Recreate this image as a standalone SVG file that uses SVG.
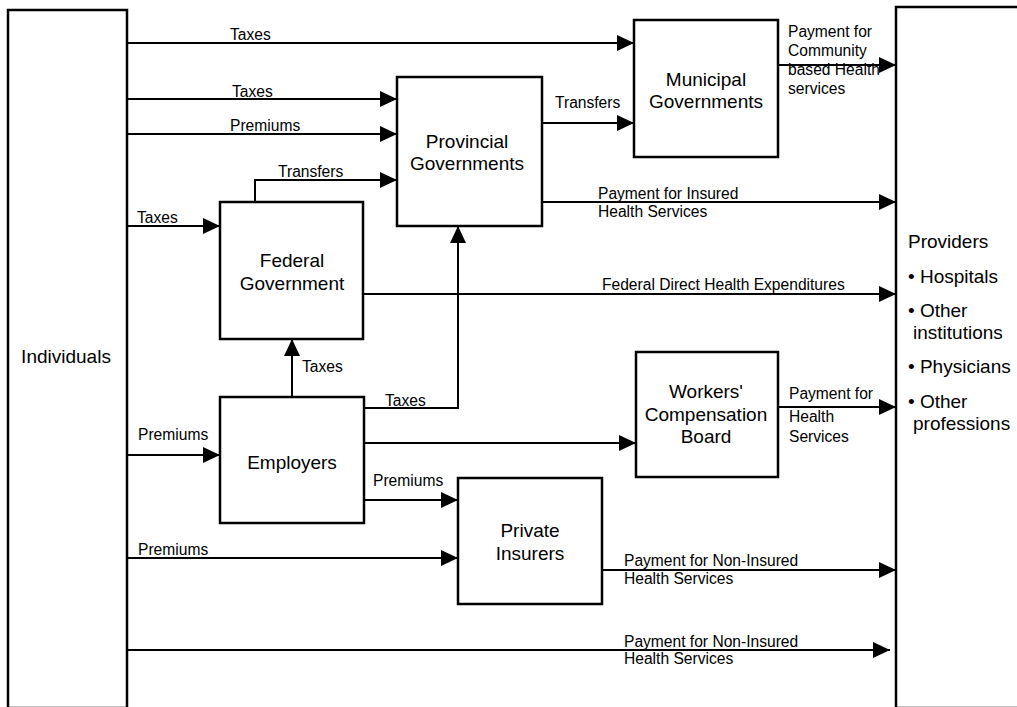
<svg xmlns="http://www.w3.org/2000/svg" width="1017" height="707" viewBox="0 0 1017 707">
  <style>
    .box { fill: #fff; stroke: #000; stroke-width: 2.5; }
    .node { font-family: "Liberation Sans", Arial, sans-serif; font-size: 19px; fill: #000; }
    .lbl { font-family: "Liberation Sans", Arial, sans-serif; font-size: 15.6px; fill: #000; }
    .edge { fill: none; stroke: #000; stroke-width: 2; }
  </style>
  <defs>
    <marker id="arrow" markerUnits="userSpaceOnUse" markerWidth="18" markerHeight="16" refX="17" refY="8" orient="auto">
      <path d="M0,0 L17,8 L0,16 Z" fill="#000"/>
    </marker>
  </defs>
  <rect width="1017" height="707" fill="#fff"/>

  <!-- connectors -->
  <g id="connectors">
    <path class="edge" d="M127,43 H634" marker-end="url(#arrow)"/>
    <path class="edge" d="M127,99 H397" marker-end="url(#arrow)"/>
    <path class="edge" d="M127,134 H397" marker-end="url(#arrow)"/>
    <path class="edge" d="M255,202 V180 H397" marker-end="url(#arrow)"/>
    <path class="edge" d="M127,226 H220" marker-end="url(#arrow)"/>
    <path class="edge" d="M542,123 H634" marker-end="url(#arrow)"/>
    <path class="edge" d="M542,202 H896" marker-end="url(#arrow)"/>
    <path class="edge" d="M363,294 H896" marker-end="url(#arrow)"/>
    <path class="edge" d="M778,65 H896" marker-end="url(#arrow)"/>
    <path class="edge" d="M292,397 V339" marker-end="url(#arrow)"/>
    <path class="edge" d="M364,408 H458 V226" marker-end="url(#arrow)"/>
    <path class="edge" d="M364,443 H636" marker-end="url(#arrow)"/>
    <path class="edge" d="M778,407 H896" marker-end="url(#arrow)"/>
    <path class="edge" d="M127,455 H220" marker-end="url(#arrow)"/>
    <path class="edge" d="M364,500 H458" marker-end="url(#arrow)"/>
    <path class="edge" d="M127,558 H458" marker-end="url(#arrow)"/>
    <path class="edge" d="M602,570 H896" marker-end="url(#arrow)"/>
    <path class="edge" d="M127,650 H890" marker-end="url(#arrow)"/>

    <!-- connector labels -->
    <text class="lbl" x="230" y="40">Taxes</text>
    <text class="lbl" x="232" y="97">Taxes</text>
    <text class="lbl" x="230" y="131">Premiums</text>
    <text class="lbl" x="278" y="177">Transfers</text>
    <text class="lbl" x="137" y="223">Taxes</text>
    <text class="lbl" x="555" y="108">Transfers</text>
    <text class="lbl" x="598" y="199">Payment for Insured</text>
    <text class="lbl" x="598" y="217">Health Services</text>
    <text class="lbl" x="602" y="290">Federal Direct Health Expenditures</text>
    <text class="lbl" x="788" y="37">Payment for</text>
    <text class="lbl" x="788" y="56">Community</text>
    <text class="lbl" x="788" y="75">based Health</text>
    <text class="lbl" x="788" y="94">services</text>
    <text class="lbl" x="302" y="372">Taxes</text>
    <text class="lbl" x="385" y="406">Taxes</text>
    <text class="lbl" x="789" y="399">Payment for</text>
    <text class="lbl" x="789" y="422">Health</text>
    <text class="lbl" x="789" y="442">Services</text>
    <text class="lbl" x="138" y="440">Premiums</text>
    <text class="lbl" x="373" y="486">Premiums</text>
    <text class="lbl" x="138" y="555">Premiums</text>
    <text class="lbl" x="624" y="566">Payment for Non-Insured</text>
    <text class="lbl" x="624" y="584">Health Services</text>
    <text class="lbl" x="624" y="647">Payment for Non-Insured</text>
    <text class="lbl" x="624" y="664">Health Services</text>
  </g>

  <!-- nodes -->
  <g id="individuals">
    <rect class="box" x="8" y="10" width="119" height="698"/>
    <text class="node" x="66" y="363" text-anchor="middle">Individuals</text>
  </g>
  <g id="providers">
    <rect class="box" x="896" y="7" width="140" height="701"/>
    <text class="node" x="908" y="248">Providers</text>
    <text class="node" x="908" y="283">• Hospitals</text>
    <text class="node" x="908" y="317">• Other</text>
    <text class="node" x="913" y="339">institutions</text>
    <text class="node" x="908" y="373">• Physicians</text>
    <text class="node" x="908" y="408">• Other</text>
    <text class="node" x="913" y="430">professions</text>
  </g>
  <g id="municipal">
    <rect class="box" x="634" y="20" width="144" height="137"/>
    <text class="node" x="706" y="86" text-anchor="middle">Municipal</text>
    <text class="node" x="706" y="108" text-anchor="middle">Governments</text>
  </g>
  <g id="provincial">
    <rect class="box" x="397" y="77" width="145" height="149"/>
    <text class="node" x="467" y="148" text-anchor="middle">Provincial</text>
    <text class="node" x="467" y="170" text-anchor="middle">Governments</text>
  </g>
  <g id="federal">
    <rect class="box" x="220" y="202" width="143" height="137"/>
    <text class="node" x="292" y="267" text-anchor="middle">Federal</text>
    <text class="node" x="292" y="290" text-anchor="middle">Government</text>
  </g>
  <g id="employers">
    <rect class="box" x="220" y="397" width="144" height="126"/>
    <text class="node" x="292" y="469" text-anchor="middle">Employers</text>
  </g>
  <g id="wcb">
    <rect class="box" x="636" y="352" width="142" height="125"/>
    <text class="node" x="706" y="398" text-anchor="middle">Workers'</text>
    <text class="node" x="706" y="421" text-anchor="middle">Compensation</text>
    <text class="node" x="706" y="443" text-anchor="middle">Board</text>
  </g>
  <g id="private">
    <rect class="box" x="458" y="478" width="144" height="126"/>
    <text class="node" x="530" y="537" text-anchor="middle">Private</text>
    <text class="node" x="530" y="560" text-anchor="middle">Insurers</text>
  </g>
</svg>
